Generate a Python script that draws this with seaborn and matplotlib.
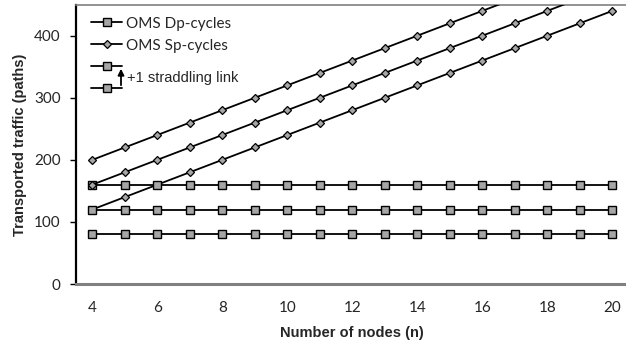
import matplotlib
matplotlib.use("Agg")
import matplotlib.pyplot as plt
import seaborn as sns
from matplotlib.lines import Line2D

# ---- data ----
nodes = [4, 5, 6, 7, 8, 9, 10, 11, 12, 13, 14, 15, 16, 17, 18, 19, 20]
dp_low = [80] * 17
dp_mid = [120] * 17
dp_high = [160] * 17
sp_low = [120, 140, 160, 180, 200, 220, 240, 260, 280, 300, 320, 340, 360, 380, 400, 420, 440]
sp_mid = [160, 180, 200, 220, 240, 260, 280, 300, 320, 340, 360, 380, 400, 420, 440, 460, 480]
sp_high = [200, 220, 240, 260, 280, 300, 320, 340, 360, 380, 400, 420, 440, 460, 480, 500, 520]
y_ticks = [0, 100, 200, 300, 400]
x_ticks = [4, 6, 8, 10, 12, 14, 16, 18, 20]

sns.set_style("white")
plt.rcParams["font.family"] = ["Lato", "DejaVu Sans"]

W, H = 626, 349
fig = plt.figure(figsize=(W / 100, H / 100), dpi=100)
left_px, bottom_px, top_px = 76, 284, 4.7
ax = fig.add_axes([left_px / W, (H - bottom_px) / H, 552.5 / W, (bottom_px - top_px) / H])

gray = "#A6A6A6"
sq = dict(marker="s", markersize=6, markerfacecolor=gray, markeredgecolor="black",
          markeredgewidth=1.0, color="black", linewidth=1.3)
dm = dict(marker="D", markersize=4.4, markerfacecolor=gray, markeredgecolor="black",
          markeredgewidth=0.9, color="black", linewidth=1.3)

sns.lineplot(x=nodes, y=sp_low, ax=ax, zorder=2, **dm)
for vals in (dp_low, dp_mid, dp_high):
    sns.lineplot(x=nodes, y=vals, ax=ax, zorder=3, **sq)
for vals in (sp_mid, sp_high):
    sns.lineplot(x=nodes, y=vals, ax=ax, zorder=4, **dm)

ax.set_xlim(3.5, 20.5)
ax.set_ylim(0, 450)
ax.set_xticks(x_ticks)
ax.set_xticklabels([str(v) for v in x_ticks])
ax.set_yticks(y_ticks)
ax.set_yticklabels([str(v) for v in y_ticks])
ax.tick_params(axis="x", length=0, labelsize=11, pad=12)
ax.tick_params(axis="y", length=4, width=1, direction="out", left=True, labelsize=11, pad=7, color="black")

ax.spines["right"].set_visible(False)
ax.spines["left"].set_color("black")
ax.spines["left"].set_linewidth(1.6)
ax.spines["bottom"].set_color("#808080")
ax.spines["bottom"].set_linewidth(2.2)
ax.spines["top"].set_color("#808080")
ax.spines["top"].set_linewidth(1.2)

ax.set_xlabel("Number of nodes (n)", fontsize=10.5, fontweight="bold",
              family=["Liberation Sans", "DejaVu Sans"], labelpad=8)
ax.set_ylabel("Transported traffic (paths)", fontsize=10.5, fontweight="bold",
              family=["Liberation Sans", "DejaVu Sans"], labelpad=5)

handles = [Line2D([], [], **sq), Line2D([], [], **dm), Line2D([], [], **sq), Line2D([], [], **sq)]
labels = ["OMS Dp-cycles", "OMS Sp-cycles", " ", " "]
leg = ax.legend(handles, labels, loc="upper left", bbox_to_anchor=(0.025, 0.962), frameon=False,
                fontsize=11, handlelength=2.0, handletextpad=0.27, labelspacing=0.52,
                borderaxespad=0, borderpad=0.1)

# arrow and annotation
def fx(px):
    return px / W
def fy(py):
    return (H - py) / H
fig.patches.append(matplotlib.patches.FancyArrowPatch((fx(121), fy(88)), (fx(121), fy(66)),
                   transform=fig.transFigure, arrowstyle="-|>", mutation_scale=9,
                   color="black", linewidth=1.3))
fig.text(fx(127), fy(78), "+1 straddling link", fontsize=10.5, va="center", ha="left",
         family=["Liberation Sans", "DejaVu Sans"])

fig.savefig("out.png", dpi=100)
